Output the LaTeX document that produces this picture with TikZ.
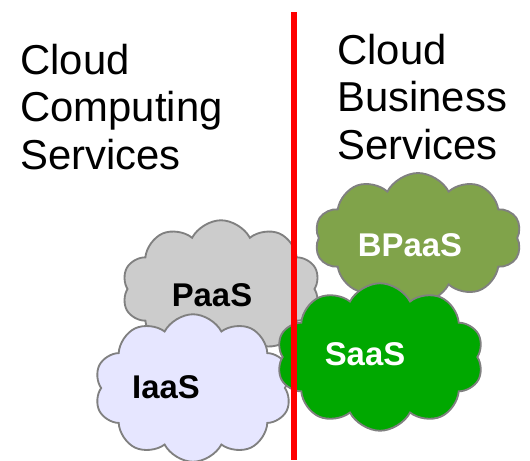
\documentclass[tikz,border=0pt]{standalone}
\usepackage{fontspec}
\setmainfont{Liberation Sans}
\usepackage{tikz}
\usetikzlibrary{shapes.symbols,positioning}

\definecolor{paasgray}{HTML}{CCCCCC}
\definecolor{iaasblue}{HTML}{E6E6FF}
\definecolor{bpaasolive}{HTML}{80A34A}
\definecolor{saasgreen}{HTML}{00A800}
\definecolor{rimgray}{HTML}{808080}

\begin{document}
\begin{tikzpicture}[
	x = 0.02cm, y = -0.02cm, % one unit is one pixel of the reference
	C/.style={cloud, cloud puffs=10, cloud puff arc=125, cloud ignores aspect, draw=rimgray, line width=1.05pt, inner sep=0pt},  %fill set per cloud
	L/.style={inner sep=0pt, font=\fontsize{18.7}{22}\selectfont\bfseries},
	T/.style={inner sep=0pt, align=left, font=\fontsize{23.8}{26.9}\selectfont},
	]
	\useasboundingbox (0,0) rectangle (530,460);

	% Titles
	\node[T, anchor=north west] (CCS) at (20,44) {Cloud\\Computing\\Services};
	\node[T, anchor=north west] (CBS) at (337,34) {Cloud\\Business\\Services};

	% Clouds, back to front
	\node[C, fill=paasgray,   minimum width=3.96cm, minimum height=2.75cm] (P) at (221,289) {};
	\node[C, fill=iaasblue,   minimum width=3.94cm, minimum height=2.95cm] (I) at (193,388) {};
	\node[C, fill=bpaasolive, minimum width=4.14cm, minimum height=2.6cm]  (B) at (418,238) {};
	\node[C, fill=saasgreen,  minimum width=4.14cm, minimum height=2.95cm] (S) at (380,357) {};

	% Labels
	\node[L]             (PL) at (212,295) {PaaS};
	\node[L]             (IL) at (166,387) {IaaS};
	\node[L, text=white] (BL) at (410,245) {BPaaS};
	\node[L, text=white] (SL) at (365,354) {SaaS};

	% Divider
	\coordinate (top) at (294,12);
	\coordinate (bot) at (294,460);
	\draw[red, line width=3.4pt] (top) -- (bot);

\end{tikzpicture}
\end{document}
